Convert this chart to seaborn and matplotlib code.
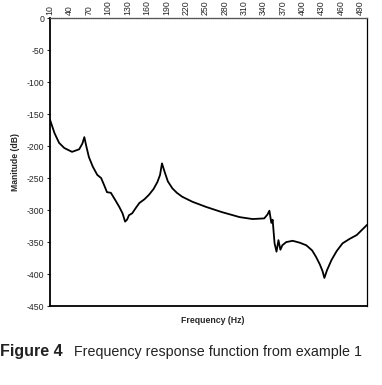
import numpy as np
import matplotlib
matplotlib.use("Agg")
import matplotlib.pyplot as plt
import pandas as pd
import seaborn as sns

# valors llegits de la figura (freq en Hz, magnitud en dB)
freq = [10, 17, 24, 32, 44, 55, 60, 63, 66, 70, 76, 83, 89, 94, 98, 104, 110,
        117, 122, 126, 129, 132, 137, 143, 148, 156, 163, 170, 176, 180, 183,
        187, 192, 199, 206, 214, 230, 251, 275, 303, 323, 341, 346, 349, 352,
        354, 357, 360, 363, 366, 369, 375, 385, 396, 406, 415, 421, 427, 431,
        434, 438, 445, 453, 462, 473, 484, 492, 500]
magnitude = [-159, -180, -195, -203, -209, -205, -196, -186, -200, -217, -232,
             -245, -250, -262, -272, -273, -283, -295, -305, -318, -315, -308,
             -305, -296, -289, -283, -276, -267, -256, -245, -227, -240, -255,
             -266, -273, -279, -287, -295, -303, -311, -314, -313, -307, -301,
             -320, -315, -352, -365, -347, -362, -355, -350, -348, -351, -355,
             -363, -373, -385, -395, -406, -394, -378, -364, -352, -345, -339,
             -331, -323]

yticks = list(range(0, -451, -50))
xticks = list(range(10, 491, 30))

df = pd.DataFrame({"freq": freq, "magnitude": magnitude})

sns.set_style("white")
plt.rcParams["font.family"] = ["Liberation Sans", "DejaVu Sans"]

fig = plt.figure(figsize=(3.82, 3.85), dpi=100)
ax = fig.add_axes([0.131, 0.205, 0.83, 0.748])

sns.lineplot(data=df, x="freq", y="magnitude", color="black", linewidth=1.3, ax=ax)

ax.set_xlim(10, 500)
ax.set_ylim(-450, 0)
ax.set_yticks(yticks)
ax.set_yticklabels([str(v) for v in yticks], fontsize=6.3)
ax.set_xticks(xticks)
ax.set_xticklabels([str(v) for v in xticks], fontsize=6.3, rotation=90)
ax.xaxis.tick_top()
ax.tick_params(axis="x", length=0, pad=2)
ax.tick_params(axis="y", length=2, width=0.8, pad=2, left=True)

for s in ["left", "bottom"]:
    ax.spines[s].set_color("black")
    ax.spines[s].set_linewidth(1.3)
ax.spines["right"].set_color("black")
ax.spines["right"].set_linewidth(0.9)
ax.spines["top"].set_color("#555555")
ax.spines["top"].set_linewidth(0.9)
ax.spines["top"].set_linestyle((0, (1, 0.5)))

ax.set_xlabel("")
ax.set_ylabel("Manitude (dB)", fontsize=6.2, fontweight="bold", labelpad=5)
fig.text(0.557, 0.168, "Frequency (Hz)", fontsize=6.3, fontweight="bold",
         ha="center", va="center")

fig.text(0.0, 0.086, "Figure 4", fontsize=11.5, fontweight="bold", color="#222222",
         ha="left", va="center")
fig.text(0.194, 0.086, "Frequency response function from example 1", fontsize=10.3,
         color="#222222", ha="left", va="center")

fig.savefig("out.png", dpi=100)
